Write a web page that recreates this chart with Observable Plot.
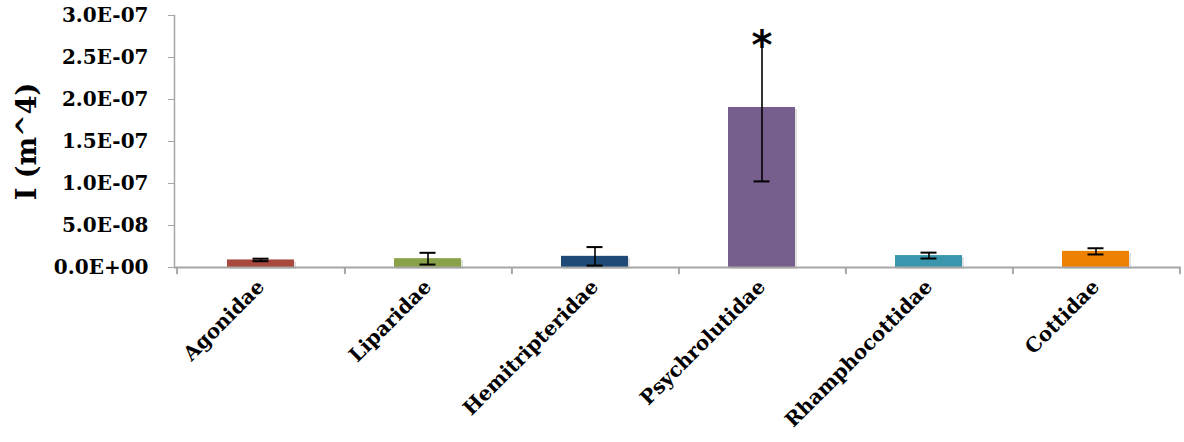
<!DOCTYPE html>
<html>
<head>
<meta charset="utf-8">
<script src="https://cdn.jsdelivr.net/npm/d3@7"></script>
<script src="https://cdn.jsdelivr.net/npm/@observablehq/plot@0.6"></script>
<style>
  html, body { margin: 0; padding: 0; background: #fff; }
</style>
</head>
<body>
<div id="chart"></div>
<script>
const categories = ["Agonidae", "Liparidae", "Hemitripteridae", "Psychrolutidae", "Rhamphocottidae", "Cottidae"];
const means  = [9.0e-9, 1.05e-8, 1.33e-8, 1.905e-7, 1.42e-8, 1.92e-8];
const errors = [1.5e-9, 7.0e-9, 1.1e-8, 8.8e-8, 3.5e-9, 3.7e-9];
const colors = ["#a8483e", "#89a24a", "#1f4a78", "#765f8c", "#3a96ac", "#ec8200"];
const significant = [false, false, false, true, false, false];
const yTicks = [0, 5e-8, 1e-7, 1.5e-7, 2e-7, 2.5e-7, 3e-7];

const data = categories.map((c, i) => ({
  name: c, mean: means[i], lo: means[i] - errors[i], hi: means[i] + errors[i],
  color: colors[i], sig: significant[i]
}));

const W = 1184, H = 442, ML = 174, MR = 3, MT = 15, MB = 175;
const step = (W - ML - MR) / categories.length;
const axisGray = "#a6a6a6";

function fmt(v) {
  if (v === 0) return "0.0E+00";
  const [m, e] = v.toExponential(1).split("e");
  const n = +e;
  return m + "E" + (n < 0 ? "-" : "+") + String(Math.abs(n)).padStart(2, "0");
}

const chart = Plot.plot({
  width: W, height: H,
  marginLeft: ML, marginRight: MR, marginTop: MT, marginBottom: MB,
  style: { fontFamily: "'DejaVu Serif', serif", fontWeight: "bold", color: "#000", background: "#fff" },
  x: { domain: categories, paddingInner: 0.6, paddingOuter: 0.3, label: null },
  y: { domain: [0, 3e-7], label: null },
  color: { type: "identity" },
  marks: [
    // bar shadows
    Plot.rectY(data, { x: "name", y: "mean", fill: "#000", fillOpacity: 0.12, dx: 2, dy: 2 }),
    Plot.rectY(data, { x: "name", y: "mean", fill: "color" }),
    // axes lines
    Plot.frame({ anchor: "left", stroke: axisGray, strokeWidth: 1.5 }),
    Plot.ruleY([0], { stroke: axisGray, strokeWidth: 2 }),
    // x boundary ticks
    Plot.ruleX(categories, { x: d => d, dx: step / 2, y1: 0, y2: -0.85e-8, stroke: axisGray, strokeWidth: 2 }),
    Plot.ruleX([categories[0]], { x: d => d, dx: -step / 2, y1: 0, y2: -0.85e-8, stroke: axisGray, strokeWidth: 2 }),
    // error bars
    Plot.ruleX(data, { x: "name", y1: "lo", y2: "hi", stroke: "#000", strokeWidth: 1.6 }),
    Plot.tickY(data, { x: "name", y: "lo", stroke: "#000", strokeWidth: 2, insetLeft: 25.5, insetRight: 25.5 }),
    Plot.tickY(data.filter(d => !d.sig), { x: "name", y: "hi", stroke: "#000", strokeWidth: 2, insetLeft: 25.5, insetRight: 25.5 }),
    Plot.text(data.filter(d => d.sig), { x: "name", y: "hi", text: () => "*", fontSize: 40, fontWeight: "bold", fontFamily: "'DejaVu Sans', sans-serif", dy: 13, fill: "#000" }),
    // axes
    Plot.axisY({ ticks: yTicks, tickFormat: fmt, tickSize: 6, stroke: axisGray, tickPadding: 20, fontSize: 20,
      label: "I (m^4)", labelAnchor: "center", labelOffset: 158, labelArrow: "none" }),
    Plot.axisX({ tickSize: 0, tickRotate: -45, tickPadding: 16, fontSize: 20, label: null })
  ]
});

d3.select(chart).selectAll("g[aria-label='y-axis label'] text").attr("font-size", 27);
document.getElementById("chart").appendChild(chart);
</script>
</body>
</html>
